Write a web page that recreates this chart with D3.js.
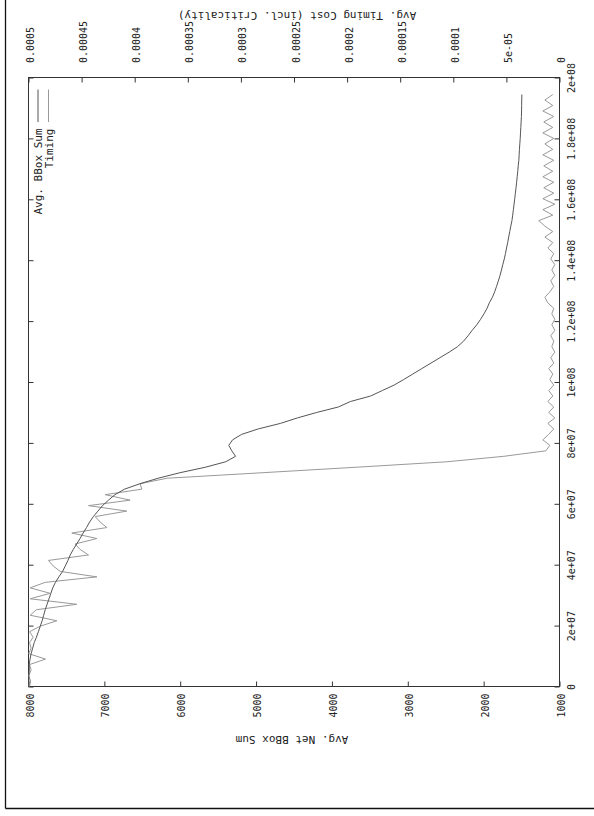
<!DOCTYPE html>
<html>
<head>
<meta charset="utf-8">
<script src="https://cdn.jsdelivr.net/npm/d3@7"></script>
<style>
  html, body { margin: 0; padding: 0; background: #fff; }
  svg { display: block; }
</style>
</head>
<body>
<svg id="chart" width="594" height="816"></svg>
<script>
// Annealing trace: cumulative moves (millions) per temperature step
const movesMillions = [
  0, 1.8, 3.6, 5.4, 7.2, 9, 10.8, 12.6, 14.4, 16.2,
  18, 19.8, 21.6, 23.4, 25.2, 27, 28.8, 30.6, 32.4, 34.2,
  36, 37.8, 39.6, 41.4, 43.2, 45, 46.8, 48.6, 50.4, 52.2,
  54, 55.8, 57.6, 59.4, 61.2, 63, 64.8, 66.6, 68.4, 70.2,
  72, 73.8, 75.6, 77.4, 79.2, 81, 82.8, 84.6, 86.4, 88.2,
  90, 91.8, 93.6, 95.4, 97.2, 99, 100.8, 102.6, 104.4, 106.2,
  108, 109.8, 111.6, 113.4, 115.2, 117, 118.8, 120.6, 122.4, 124.2,
  126, 127.8, 129.6, 131.4, 133.2, 135, 136.8, 138.6, 140.4, 142.2,
  144, 145.8, 147.6, 149.4, 151.2, 153, 154.8, 156.6, 158.4, 160.2,
  162, 163.8, 165.6, 167.4, 169.2, 171, 172.8, 174.6, 176.4, 178.2,
  180, 181.8, 183.6, 185.4, 187.2, 189, 190.8, 192.6, 194.4
];

// Avg. net bounding-box sum (left axis)
const bboxSum = [
  8000, 7995, 7995, 7990, 7990, 7980, 7965, 7945, 7925, 7895,
  7870, 7845, 7820, 7800, 7780, 7755, 7730, 7705, 7680, 7645,
  7600, 7550, 7515, 7480, 7450, 7410, 7365, 7320, 7280, 7235,
  7195, 7145, 7085, 7025, 6945, 6860, 6735, 6530, 6290, 6005,
  5670, 5400, 5270, 5320, 5360, 5310, 5190, 4970, 4680, 4455,
  4200, 3915, 3755, 3490, 3335, 3180, 3055, 2935, 2815, 2695,
  2575, 2455, 2345, 2265, 2205, 2150, 2090, 2040, 1995, 1955,
  1925, 1885, 1855, 1830, 1806, 1784, 1765, 1747, 1728, 1712,
  1698, 1683, 1670, 1656, 1642, 1627, 1617, 1608, 1599, 1590,
  1582, 1573, 1565, 1558, 1550, 1544, 1536, 1532, 1528, 1523,
  1518, 1514, 1510, 1506, 1502, 1500, 1499, 1498, 1496
];

// Avg. timing cost incl. criticality (right axis)
const timingCost = [
  4.99e-4, 4.98e-4, 4.998e-4, 4.975e-4, 4.99e-4, 4.84e-4, 4.998e-4, 4.975e-4, 4.99e-4, 4.956e-4,
  4.99e-4, 4.89e-4, 4.733e-4, 4.984e-4, 4.927e-4, 4.545e-4, 4.984e-4, 4.796e-4, 4.984e-4, 4.843e-4,
  4.356e-4, 4.702e-4, 4.768e-4, 4.812e-4, 4.435e-4, 4.514e-4, 4.561e-4, 4.356e-4, 4.592e-4, 4.262e-4,
  4.325e-4, 4.372e-4, 4.074e-4, 4.435e-4, 4.043e-4, 4.278e-4, 3.933e-4, 3.949e-4, 3.695e-4, 2.801e-4,
  1.917e-4, 1.060e-4, 5.24e-5, 1.29e-5, 9.1e-6, 1.57e-5, 1.01e-5, 5.4e-6, 1.10e-5, 4.4e-6,
  1.01e-5, 5.4e-6, 1.10e-5, 6.3e-6, 1.01e-5, 5.4e-6, 9.1e-6, 6.3e-6, 1.01e-5, 5.4e-6,
  8.2e-6, 4.4e-6, 7.2e-6, 5.4e-6, 8.2e-6, 4.4e-6, 7.2e-6, 4.4e-6, 7.2e-6, 5.4e-6,
  1.10e-5, 1.38e-5, 9.1e-6, 5.4e-6, 8.2e-6, 4.4e-6, 7.2e-6, 4.4e-6, 8.2e-6, 5.4e-6,
  1.10e-5, 6.3e-6, 1.38e-5, 6.3e-6, 1.38e-5, 1.95e-5, 6.3e-6, 1.57e-5, 4.4e-6, 1.57e-5,
  5.4e-6, 1.48e-5, 5.4e-6, 1.57e-5, 6.3e-6, 1.48e-5, 5.4e-6, 1.57e-5, 6.3e-6, 1.38e-5,
  5.4e-6, 1.57e-5, 6.3e-6, 1.48e-5, 5.4e-6, 1.57e-5, 6.3e-6, 1.38e-5, 6.3e-6
];

const moveTicks = [0, 20, 40, 60, 80, 100, 120, 140, 160, 180, 200];
const moveTickLabels = ["0", "2e+07", "4e+07", "6e+07", "8e+07", "1e+08", "1.2e+08", "1.4e+08", "1.6e+08", "1.8e+08", "2e+08"];
const bboxTicks = [1000, 2000, 3000, 4000, 5000, 6000, 7000, 8000];
const bboxTickLabels = ["1000", "2000", "3000", "4000", "5000", "6000", "7000", "8000"];
const timingTicks = [0, 0.00005, 0.0001, 0.00015, 0.0002, 0.00025, 0.0003, 0.00035, 0.0004, 0.00045, 0.0005];
const timingTickLabels = ["0", "5e-05", "0.0001", "0.00015", "0.0002", "0.00025", "0.0003", "0.00035", "0.0004", "0.00045", "0.0005"];
const seriesNames = ["Avg. BBox Sum", "Timing"];
const seriesColors = ["#555555", "#999999"];

const svg = d3.select("#chart");
const FONT = "'DejaVu Sans Mono', 'Liberation Mono', monospace";

// Landscape plot turned a quarter turn: moves run up the page,
// the BBox axis runs along the bottom, the timing axis along the top.
const frame = { left: 28.5, right: 559.5, top: 77.5, bottom: 686.5 };

const yMoves = d3.scaleLinear().domain([0, 200]).range([frame.bottom, frame.top]);
const xBBox = d3.scaleLinear().domain([1000, 8000]).range([frame.right, frame.left]);
const xTiming = d3.scaleLinear().domain([0, 0.0005]).range([frame.right, frame.left]);

// page border
svg.append("line").attr("x1", 5.5).attr("x2", 5.5).attr("y1", 0).attr("y2", 808.5)
  .attr("stroke", "#111").attr("stroke-width", 1.3);
svg.append("line").attr("x1", 5.5).attr("x2", 594).attr("y1", 808.5).attr("y2", 808.5)
  .attr("stroke", "#111").attr("stroke-width", 1.3);

// plot frame
svg.append("rect")
  .attr("x", frame.left).attr("y", frame.top)
  .attr("width", frame.right - frame.left).attr("height", frame.bottom - frame.top)
  .attr("fill", "none").attr("stroke", "#333").attr("stroke-width", 1);

function styleAxis(g) {
  g.select(".domain").remove();
  g.selectAll(".tick line").attr("stroke", "#333");
  g.selectAll(".tick text")
    .attr("font-family", FONT).attr("font-size", 10).attr("fill", "#222")
    .attr("x", null).attr("y", null).attr("dy", null)
    .attr("dominant-baseline", "central");
}

// moves axis (right side) with labels
svg.append("g")
  .attr("transform", `translate(${frame.right},0)`)
  .call(d3.axisRight(yMoves).tickValues(moveTicks)
    .tickFormat((d, i) => moveTickLabels[i]).tickSize(-5))
  .call(styleAxis)
  .selectAll(".tick text")
  .attr("text-anchor", "middle")
  .attr("transform", "translate(12,0) rotate(-90)");

// mirrored moves ticks (left side)
svg.append("g")
  .attr("transform", `translate(${frame.left},0)`)
  .call(d3.axisLeft(yMoves).tickValues(moveTicks).tickFormat("").tickSize(-5))
  .call(styleAxis);

// BBox axis (bottom)
svg.append("g")
  .attr("transform", `translate(0,${frame.bottom})`)
  .call(d3.axisBottom(xBBox).tickValues(bboxTicks)
    .tickFormat((d, i) => bboxTickLabels[i]).tickSize(-5))
  .call(styleAxis)
  .selectAll(".tick text")
  .attr("text-anchor", "end")
  .attr("transform", "translate(1,7) rotate(-90)");

// timing axis (top)
svg.append("g")
  .attr("transform", `translate(0,${frame.top})`)
  .call(d3.axisTop(xTiming).tickValues(timingTicks)
    .tickFormat((d, i) => timingTickLabels[i]).tickSize(-5))
  .call(styleAxis)
  .selectAll(".tick text")
  .attr("text-anchor", "start")
  .attr("transform", "translate(1.5,-14.5) rotate(-90)");

// axis titles
svg.append("text")
  .attr("transform", "translate(292,739) rotate(180)")
  .attr("text-anchor", "middle").attr("dominant-baseline", "central")
  .attr("font-family", FONT).attr("font-size", 11).attr("fill", "#222")
  .text("Avg. Net BBox Sum");
svg.append("text")
  .attr("transform", "translate(297,15) rotate(180)")
  .attr("text-anchor", "middle").attr("dominant-baseline", "central")
  .attr("font-family", FONT).attr("font-size", 11).attr("fill", "#222")
  .text("Avg. Timing Cost (incl. Criticality)");

// series
const bboxLine = d3.line()
  .x((d, i) => xBBox(bboxSum[i]))
  .y(d => yMoves(d));
const timingLine = d3.line()
  .x((d, i) => xTiming(timingCost[i]))
  .y(d => yMoves(d));

svg.append("path").datum(movesMillions)
  .attr("d", timingLine)
  .attr("fill", "none").attr("stroke", seriesColors[1]).attr("stroke-width", 1);
svg.append("path").datum(movesMillions)
  .attr("d", bboxLine)
  .attr("fill", "none").attr("stroke", seriesColors[0]).attr("stroke-width", 1);

// legend
const legend = svg.append("g");
seriesNames.forEach((name, k) => {
  const lx = 38 + k * 10.5;
  legend.append("line")
    .attr("x1", lx).attr("x2", lx).attr("y1", 89.5).attr("y2", 122)
    .attr("stroke", seriesColors[k]).attr("stroke-width", 1);
  legend.append("text")
    .attr("transform", `translate(${lx + 0.5},128.5) rotate(-90)`)
    .attr("text-anchor", "end").attr("dominant-baseline", "central")
    .attr("font-family", FONT).attr("font-size", 11).attr("fill", "#222")
    .text(name);
});
</script>
</body>
</html>
